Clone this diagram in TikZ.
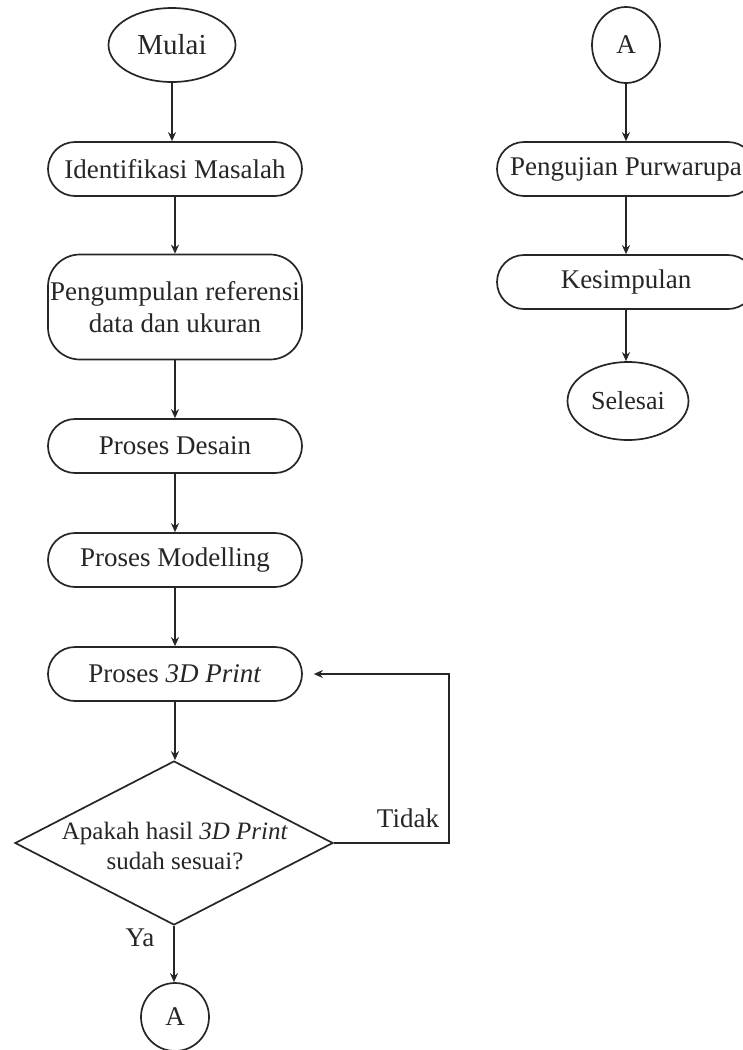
\documentclass[tikz,border=0pt]{standalone}
\usepackage{fontspec}
\setmainfont{Liberation Serif}
\usetikzlibrary{shapes.geometric,arrows.meta,calc}
\begin{document}
\begin{tikzpicture}[x=1pt,y=-1pt,
  every node/.style={text=black!85, font=\fontsize{27}{32}\selectfont},
  line/.style={draw=black!85, line width=1.7pt},
  procbox/.style={line, rectangle, rounded corners=27pt, minimum width=254pt, minimum height=54pt, inner sep=0pt},
  terminal/.style={line, ellipse, inner sep=0pt},
  conn/.style={line, circle, inner sep=0pt},
  arr/.style={line, -{Stealth[length=9pt,width=8pt]}},
  lbl/.style={inner sep=0pt}]
\useasboundingbox (0,0) rectangle (743,1050);
\fill[white] (0,0) rectangle (743,1050);
% left column
\node[terminal, minimum width=127pt, minimum height=74pt, font=\fontsize{29}{34}\selectfont] (mulai) at (172,45) {Mulai};
\node[procbox] (ident) at (175,169) {Identifikasi Masalah};
\node[procbox, minimum height=105pt, rounded corners=32pt, align=center] (kumpul) at (175,307) {Pengumpulan referensi\\data dan ukuran};
\node[procbox] (desain) at (175,446) {Proses Desain};
\node[procbox] (model) at (175,560) {Proses Modelling};
\node[procbox] (print) at (175,674) {Proses \textit{3D Print}};
\node[line, diamond, minimum width=318pt, minimum height=164pt, inner sep=0pt] (dec) at (174,843) {};
\node[align=center, inner sep=0pt, font=\fontsize{25}{30}\selectfont] (dect) at (175,846) {Apakah hasil \textit{3D Print}\\sudah sesuai?};
\node[conn, minimum size=68pt] (a1) at (175,1017) {A};
\node[lbl] (ya) at (140,938) {Ya};
\node[lbl] (tidak) at (408,818) {Tidak};
% right column
\node[terminal, minimum width=68pt, minimum height=76pt] (a2) at (626,45) {A};
\node[procbox, minimum width=258pt] (uji) at (626,169) {Pengujian Purwarupa};
\node[procbox, minimum width=258pt] (simpul) at (626,282) {Kesimpulan};
\node[terminal, minimum width=121pt, minimum height=78pt, font=\fontsize{26}{31}\selectfont] (selesai) at (628,401) {Selesai};
% connectors
\draw[arr] (mulai.south) -- (mulai.south |- ident.north);
\draw[arr] (ident.south) -- (kumpul.north);
\draw[arr] (kumpul.south) -- (desain.north);
\draw[arr] (desain.south) -- (model.north);
\draw[arr] (model.south) -- (print.north);
\draw[arr] (print.south) -- (print.south |- dec.north);
\draw[arr] (dec.south) -- (dec.south |- a1.north);
\draw[arr] (dec.east) -- ++(115,0) |- ([xshift=11pt]print.east);
\draw[arr] (a2.south) -- (a2.south |- uji.north);
\draw[arr] (uji.south) -- (simpul.north);
\draw[arr] (simpul.south) -- (simpul.south |- selesai.north);
\end{tikzpicture}
\end{document}
